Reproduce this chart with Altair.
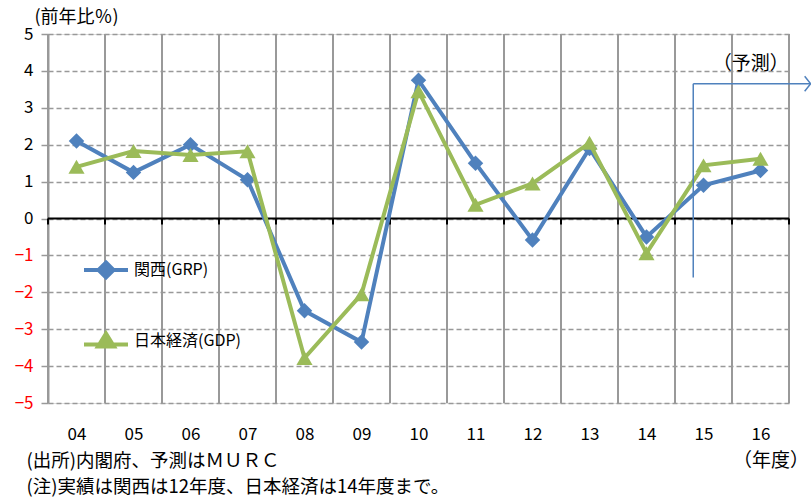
import altair as alt
import pandas as pd

# ---- data ----
years = ["04", "05", "06", "07", "08", "09", "10", "11", "12", "13", "14", "15", "16"]
kansai = [2.1, 1.25, 2.0, 1.05, -2.5, -3.35, 3.75, 1.5, -0.58, 1.9, -0.5, 0.9, 1.3]
japan = [1.4, 1.83, 1.72, 1.82, -3.78, -2.05, 3.45, 0.37, 0.95, 2.05, -0.94, 1.44, 1.62]
series_names = ["関西(GRP)", "日本経済(GDP)"]
series_colors = ["#4F81BD", "#9BBB59"]
y_ticks = [-5, -4, -3, -2, -1, 0, 1, 2, 3, 4, 5]

y_title = "(前年比％)"
notes = ["(出所)内閣府、予測はＭＵＲＣ", "(注)実績は関西は12年度、日本経済は14年度まで。"]
unit_label = "（年度）"
forecast_label = "（予測）"

# annotation anchors (data coordinates)
forecast_x = 10.82
forecast_top = 3.65
forecast_bottom = -1.6
forecast_arrow_x = 12.88
forecast_label_pos = (11.83, 4.2)
unit_label_pos = (12.85, -6.57)

FONT = "Noto Sans CJK JP"
GRID = "#999999"

idx = list(range(len(years)))
boundaries = [i - 0.5 for i in range(len(years) + 1)]

label_expr = "[" + ",".join("'%s'" % y for y in years) + "][datum.value]"

xscale = alt.Scale(domain=[-0.5, len(years) - 0.5], nice=False, zero=False)
yscale = alt.Scale(domain=[-5, 5], nice=False)

xaxis = alt.Axis(
    values=idx, labelExpr=label_expr, grid=False, domain=False, ticks=False,
    labelPadding=23, labelFontSize=17, labelColor="#000000", labelFont=FONT,
    title=notes, titleX=-22, titleY=48, titleAlign="left", titleBaseline="top",
    titleFontSize=18.5, titleFontWeight="normal", titleLineHeight=26, titleFont=FONT,
    titleColor="#000000",
)
yaxis = alt.Axis(
    values=y_ticks, grid=True, gridDash=[5, 3], gridColor=GRID, gridWidth=1.5,
    domain=True, domainColor=GRID, domainWidth=2, tickColor=GRID, tickSize=7,
    tickWidth=1.5, labelPadding=8, labelFontSize=17, labelFont=FONT,
    labelColor={"expr": "datum.value < 0 ? '#FF0000' : '#000000'"},
    title=y_title, titleAngle=0, titleX=-14, titleY=-17, titleAlign="left",
    titleBaseline="middle", titleFontSize=18, titleFontWeight="normal", titleFont=FONT,
    titleColor="#000000",
)


def X():
    return alt.X("x:Q", scale=xscale, axis=xaxis)


def Y():
    return alt.Y("y:Q", scale=yscale, axis=yaxis)


# vertical grid at category boundaries
vgrid_df = pd.DataFrame({"x": boundaries, "y": [-5] * len(boundaries), "y2": [5] * len(boundaries)})
vgrid = alt.Chart(vgrid_df).mark_rule(color=GRID, strokeWidth=2).encode(x=X(), y=Y(), y2="y2:Q")

# zero line with ticks
zero_df = pd.DataFrame({"x": [boundaries[0]], "x2": [boundaries[-1]], "y": [0]})
zero = alt.Chart(zero_df).mark_rule(color="#000000", strokeWidth=2).encode(x=X(), x2="x2:Q", y=Y())
ztick_df = pd.DataFrame({"x": boundaries, "y": [0] * len(boundaries), "y2": [-0.16] * len(boundaries)})
zticks = alt.Chart(ztick_df).mark_rule(color="#000000", strokeWidth=2).encode(x=X(), y=Y(), y2="y2:Q")

k_df = pd.DataFrame({"x": idx, "y": kansai})
j_df = pd.DataFrame({"x": idx, "y": japan})

k_line = alt.Chart(k_df).mark_line(color=series_colors[0], strokeWidth=4).encode(x=X(), y=Y())
k_pts = alt.Chart(k_df).mark_point(shape="diamond", filled=True, opacity=1, size=240,
                                   color=series_colors[0]).encode(x=X(), y=Y())
j_line = alt.Chart(j_df).mark_line(color=series_colors[1], strokeWidth=4).encode(x=X(), y=Y())
j_pts = alt.Chart(j_df).mark_point(shape="triangle-up", filled=True, opacity=1, size=260,
                                   color=series_colors[1]).encode(x=X(), y=Y())

# forecast annotation
fv_df = pd.DataFrame({"x": [forecast_x], "y": [forecast_top], "y2": [forecast_bottom]})
fv = alt.Chart(fv_df).mark_rule(color="#4F81BD", strokeWidth=1.5).encode(x=X(), y=Y(), y2="y2:Q")
fh_df = pd.DataFrame({"x": [forecast_x], "x2": [forecast_arrow_x], "y": [forecast_top]})
fh = alt.Chart(fh_df).mark_rule(color="#4F81BD", strokeWidth=1.5).encode(x=X(), x2="x2:Q", y=Y())
fa_df = pd.DataFrame({"x": [forecast_arrow_x], "y": [forecast_top]})
fa = alt.Chart(fa_df).mark_point(shape="M-0.8,-1L0,0L-0.8,1", filled=False, size=225, opacity=1,
                                 color="#4F81BD", strokeWidth=1.5).encode(x=X(), y=Y())
ft_df = pd.DataFrame({"x": [forecast_label_pos[0]], "y": [forecast_label_pos[1]], "t": [forecast_label]})
ft = alt.Chart(ft_df).mark_text(font=FONT, fontSize=19, color="#000000", align="center",
                                baseline="middle").encode(x=X(), y=Y(), text="t:N")

ut_df = pd.DataFrame({"x": [unit_label_pos[0]], "y": [unit_label_pos[1]], "t": [unit_label]})
ut = alt.Chart(ut_df).mark_text(font=FONT, fontSize=19, color="#000000", align="right",
                                baseline="middle").encode(x=X(), y=Y(), text="t:N")

# legend (line + marker symbols)
legend_paths = [
    "M-2.2,0L2.2,0M0,-0.75L0.75,0L0,0.75L-0.75,0Z",
    "M-2.2,0.35L2.2,0.35M0,-0.75L0.8,0.55L-0.8,0.55Z",
]
leg = alt.Legend(
    orient="none", legendX=46, legendY=224, direction="vertical", title=None,
    symbolSize=400, symbolStrokeWidth=4, labelFontSize=16, labelFont=FONT,
    labelColor="#000000", labelOffset=16, rowPadding=39, symbolOpacity=1,
)
leg_df = pd.DataFrame({"series": series_names, "x": [0, 0], "y": [0, 0]})
legend_layer = alt.Chart(leg_df).mark_point(filled=True, opacity=1).transform_filter("false").encode(
    x=X(), y=Y(),
    color=alt.Color("series:N", scale=alt.Scale(domain=series_names, range=series_colors), legend=leg),
    stroke=alt.Stroke("series:N", scale=alt.Scale(domain=series_names, range=series_colors), legend=leg),
    shape=alt.Shape("series:N", scale=alt.Scale(domain=series_names, range=legend_paths), legend=leg),
)

chart = alt.layer(
    vgrid, zero, zticks, k_line, k_pts, j_line, j_pts, fv, fh, fa, ft, ut, legend_layer
).properties(
    width=741, height=369,
    autosize=alt.AutoSizeParams(type="none"),
    padding={"left": 48, "top": 34, "right": 22, "bottom": 97},
    background="#FFFFFF",
).configure_view(stroke=None).configure(font=FONT)

chart.save("out.html", embed_options={"renderer": "svg", "actions": False})
